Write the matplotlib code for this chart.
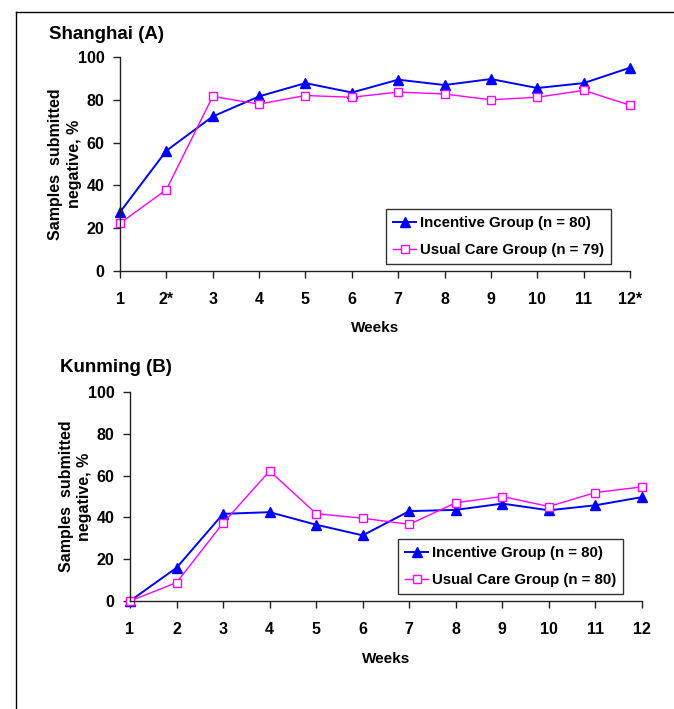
import matplotlib
matplotlib.use("Agg")
import matplotlib.pyplot as plt
from matplotlib.lines import Line2D

plt.rcParams['font.family'] = ['Liberation Sans', 'DejaVu Sans']
plt.rcParams['font.weight'] = 'bold'

weeks = list(range(1, 13))
labels_a = ['1', '2*', '3', '4', '5', '6', '7', '8', '9', '10', '11', '12*']
labels_b = ['1', '2', '3', '4', '5', '6', '7', '8', '9', '10', '11', '12']

sh_incentive = [27.5, 56.2, 72.2, 81.6, 87.8, 83.4, 89.4, 86.9, 89.7, 85.5, 87.8, 95.0]
sh_usual = [22.3, 38.0, 81.6, 78.0, 82.0, 81.2, 83.6, 82.7, 80.0, 81.2, 84.4, 77.5]
km_incentive = [0.0, 15.9, 41.7, 42.5, 36.5, 31.4, 43.0, 43.6, 46.6, 43.4, 45.8, 49.7]
km_usual = [0.0, 8.8, 37.3, 62.2, 41.8, 39.6, 36.7, 47.0, 50.0, 45.2, 51.9, 54.6]

W, H = 674, 709
fig = plt.figure(figsize=(W / 100, H / 100), dpi=100)


def px_axes(l, r, t, b):
    return fig.add_axes([l / W, 1 - b / H, (r - l) / W, (b - t) / H])


def draw(ax, inc, usu, xt, n_usual, leg_box):
    ax.plot(weeks, inc, color='#0000FF', lw=1.4, marker='^', ms=6.5,
            mfc='#0000FF', mec='#0000FF', label='Incentive Group (n = 80)', clip_on=False)
    ax.plot(weeks, usu, color='#FF00FF', lw=1.0, marker='s', ms=6,
            mfc='white', mec='#FF00FF', mew=1.0, label=f'Usual Care Group (n = {n_usual})', clip_on=False)
    ax.set_xlim(1, 12)
    ax.set_ylim(0, 100)
    ax.set_xticks(weeks)
    ax.set_xticklabels(xt)
    ax.set_yticks([0, 20, 40, 60, 80, 100])
    for s in ['top', 'right']:
        ax.spines[s].set_visible(False)
    for s in ['left', 'bottom']:
        ax.spines[s].set_color('#202020')
        ax.spines[s].set_linewidth(1.0)
    ax.tick_params(axis='x', direction='out', length=5, width=1, pad=10, labelsize=11.5, colors='#202020', labelcolor='black')
    ax.tick_params(axis='y', direction='out', length=5, width=1, pad=6, labelsize=11.5, colors='#202020', labelcolor='black')
    for t in ax.get_xticklabels() + ax.get_yticklabels():
        t.set_fontweight('bold')
    ax.set_ylabel('Samples  submitted\nnegative, %', fontsize=11.5, fontweight='bold', linespacing=1.3)
    ax.set_xlabel('Weeks', fontsize=11, fontweight='bold')
    l, r, t, b = leg_box
    x0, x1 = ax.get_position().x0 * W, ax.get_position().x1 * W
    y0, y1 = (1 - ax.get_position().y1) * H, (1 - ax.get_position().y0) * H
    bb = ((l - x0) / (x1 - x0), (y1 - b) / (y1 - y0), (r - l) / (x1 - x0), (b - t) / (y1 - y0))
    leg = ax.legend(loc='center', bbox_to_anchor=bb, frameon=True, fancybox=False,
                    edgecolor='black', fontsize=10.8, handlelength=1.5, handletextpad=0.25,
                    labelspacing=0.85, borderpad=0.5)
    leg.get_frame().set_linewidth(1.0)
    for txt in leg.get_texts():
        txt.set_fontweight('bold')
    return ax


axA = px_axes(120, 630, 57, 271)
draw(axA, sh_incentive, sh_usual, labels_a, 79, (381, 616, 210, 263))
axA.yaxis.set_label_coords(-0.075, 0.5)
axA.xaxis.set_label_coords(0.5, -0.235)

axB = px_axes(130, 642, 392, 601)
draw(axB, km_incentive, km_usual, labels_b, 80, (396, 625, 540, 593))
axB.yaxis.set_label_coords(-0.074, 0.5)
axB.xaxis.set_label_coords(0.5, -0.245)

fig.text(49 / W, 1 - 39 / H, 'Shanghai (A)', fontsize=13.5, fontweight='bold', va='baseline', ha='left')
fig.text(60 / W, 1 - 372 / H, 'Kunming (B)', fontsize=13.5, fontweight='bold', va='baseline', ha='left')

fig.add_artist(Line2D([16 / W, 16 / W], [0, 1 - 12 / H], color='black', lw=1.0))
fig.add_artist(Line2D([16 / W, 1], [1 - 12 / H, 1 - 12 / H], color='black', lw=1.0))

fig.savefig('out.png', dpi=100)
